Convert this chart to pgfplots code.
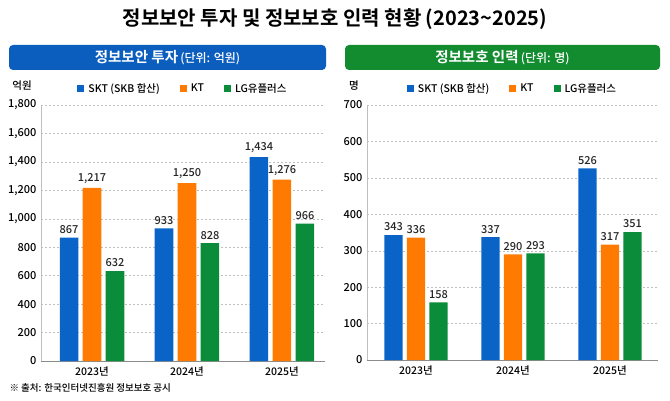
\documentclass[border=0pt]{standalone}
\usepackage{pgfplots}
\pgfplotsset{compat=1.18}
\usepackage{fontspec}
\setmainfont{Noto Sans CJK KR Medium}
\newfontfamily\boldkr{Noto Sans CJK KR Bold}
\definecolor{cblue}{HTML}{0A64C8}
\definecolor{corange}{HTML}{FF7A00}
\definecolor{cgreen}{HTML}{0A8C3A}
\definecolor{hblue}{HTML}{0B5DBE}
\definecolor{hgreen}{HTML}{128C2E}
\pgfplotsset{
  sq/.style={legend image code/.code={\fill[##1] (0pt,-3.5pt) rectangle (7pt,3.5pt);}},
  common/.style={
    ybar, scale only axis, height=256pt, ymin=0,
    axis x line=bottom, axis y line=left,
    x axis line style={-, draw=black!45, line width=0.8pt},
    y axis line style={-, draw=black!25, line width=0.6pt},
    major tick length=0pt,
    ymajorgrids, grid style={draw=black!25, dash pattern=on 2pt off 2pt, line width=0.4pt},
    xtick={0,1,2},
    xticklabels={2023년,2024년,2025년},
    x tick label style={font=\fontsize{10.5}{12}\selectfont, yshift=-2pt},
    y tick label style={font=\fontsize{11}{12}\selectfont, xshift=-1pt},
    /pgf/number format/assume math mode=true,
    /pgf/number format/1000 sep={,},
    scaled y ticks=false,
    nodes near coords,
    every node near coord/.append style={font=\fontsize{11}{12}\selectfont, text=black!85, yshift=0.5pt,
      /pgf/number format/assume math mode=true, /pgf/number format/1000 sep={,}},
    legend columns=3,
    legend style={at={(0.5,1)}, anchor=south, yshift=7pt, draw=none, fill=none,
      font=\fontsize{10.5}{12}\selectfont,
      /tikz/every odd column/.append style={column sep=2pt},
      /tikz/every even column/.append style={column sep=18pt}},
    legend cell align=left,
  }
}
\begin{document}
\begin{tikzpicture}[x=1pt,y=1pt]
\path[use as bounding box, fill=white] (0,0) rectangle (670,400);
\node at (335,381) {\boldkr\fontsize{20}{22}\selectfont 정보보안 투자 및 정보보호 인력 현황 (2023\textasciitilde 2025)};
\fill[hblue, rounded corners=4pt] (9,330) rectangle (326,355);
\node[text=white] at (167.5,342.5) {{\boldkr\fontsize{14.5}{16}\selectfont 정보보안 투자} {\fontsize{12}{14}\selectfont (단위: 억원)}};
\fill[hgreen, rounded corners=4pt] (345,330) rectangle (660,355);
\node[text=white] at (502.5,342.5) {{\boldkr\fontsize{14.5}{16}\selectfont 정보보호 인력} {\fontsize{12}{14}\selectfont (단위: 명)}};
\node at (22,314) {\fontsize{10.5}{12}\selectfont 억원};
\node at (354,314) {\fontsize{10.5}{12}\selectfont 명};
\node[anchor=west] at (6,12) {\fontsize{9.5}{11}\selectfont ※ 출처: 한국인터넷진흥원 정보보호 공시};

\begin{axis}[common, at={(41pt,39pt)}, anchor=south west, width=284pt,
  xmin=-0.537, xmax=2.453, ymax=1800, ytick={0,200,...,1800},
  bar width=0.195, ]
\addplot[sq, fill=cblue, draw=none, bar shift=-0.242] coordinates {(0,867) (1,933) (2,1434)};
\addplot[sq, fill=corange, draw=none, bar shift=0] coordinates {(0,1217) (1,1250) (2,1276)};
\addplot[sq, fill=cgreen, draw=none, bar shift=0.242] coordinates {(0,632) (1,828) (2,966)};
\legend{SKT (SKB 합산),KT,LG유플러스}
\end{axis}

\begin{axis}[common, at={(367pt,40pt)}, anchor=south west, width=291pt, height=255pt,
  xmin=-0.505, xmax=2.495, ymax=700, ytick={0,100,...,700},
  bar width=0.19, ]
\addplot[sq, fill=cblue, draw=none, bar shift=-0.232] coordinates {(0,343) (1,337) (2,526)};
\addplot[sq, fill=corange, draw=none, bar shift=0] coordinates {(0,336) (1,290) (2,317)};
\addplot[sq, fill=cgreen, draw=none, bar shift=0.232] coordinates {(0,158) (1,293) (2,351)};
\legend{SKT (SKB 합산),KT,LG유플러스}
\end{axis}
\end{tikzpicture}
\end{document}
